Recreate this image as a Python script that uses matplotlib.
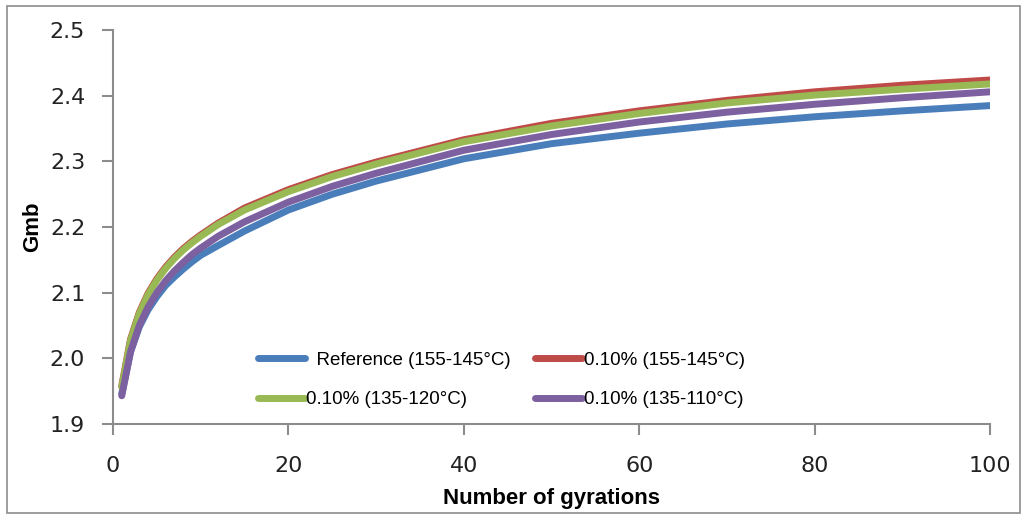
import matplotlib
matplotlib.use("Agg")
import matplotlib.pyplot as plt
from matplotlib.patches import Rectangle

# Gyratory compaction: bulk specific gravity vs number of gyrations
gyrations = [1, 2, 3, 4, 5, 6, 7, 8, 9, 10, 12, 15, 20, 25, 30, 40, 50, 60, 70, 80, 90, 100]

gmb_reference = [1.946, 2.010, 2.048, 2.074, 2.094, 2.111, 2.124, 2.136, 2.147, 2.157, 2.172,
                 2.194, 2.226, 2.250, 2.270, 2.304, 2.327, 2.343, 2.357, 2.368, 2.377, 2.385]
gmb_155_145 = [1.958, 2.029, 2.070, 2.099, 2.121, 2.139, 2.154, 2.167, 2.178, 2.188, 2.206,
               2.229, 2.257, 2.280, 2.299, 2.333, 2.358, 2.377, 2.393, 2.406, 2.416, 2.424]
gmb_135_120 = [1.956, 2.027, 2.068, 2.097, 2.119, 2.137, 2.152, 2.165, 2.176, 2.186, 2.204,
               2.226, 2.254, 2.277, 2.296, 2.330, 2.354, 2.373, 2.389, 2.401, 2.410, 2.418]
gmb_135_110 = [1.943, 2.010, 2.050, 2.078, 2.100, 2.118, 2.133, 2.146, 2.158, 2.168, 2.186,
               2.208, 2.238, 2.262, 2.282, 2.317, 2.341, 2.360, 2.375, 2.387, 2.397, 2.406]

labels = ["  Reference (155-145°C)", "0.10% (155-145°C)", "0.10% (135-120°C)", "0.10% (135-110°C)"]
colors = ["#4a7ebb", "#be4b48", "#98b954", "#7d60a0"]
series = [gmb_reference, gmb_155_145, gmb_135_120, gmb_135_110]

fig = plt.figure(figsize=(10.27, 5.19), dpi=100)
ax = fig.add_axes([0.110, 0.183, 0.854, 0.759])

lines = []
for vals, lab, col in zip(series, labels, colors):
    ln, = ax.plot(gyrations, vals, color=col, lw=5, label=lab,
                  solid_capstyle="round", solid_joinstyle="round")
    lines.append(ln)

ax.set_xlim(0, 100)
ax.set_ylim(1.9, 2.5)
ax.set_xticks(range(0, 101, 20))
ax.set_yticks([1.9, 2.0, 2.1, 2.2, 2.3, 2.4, 2.5])
ax.set_yticklabels(["1.9", "2.0", "2.1", "2.2", "2.3", "2.4", "2.5"])

for side in ["top", "right"]:
    ax.spines[side].set_visible(False)
for side in ["left", "bottom"]:
    ax.spines[side].set_color("#8c8c8c")
    ax.spines[side].set_linewidth(1.5)
ax.tick_params(direction="out", length=8, width=1.5, color="#8c8c8c",
               labelsize=16, labelcolor="#222222")
ax.tick_params(axis="y", pad=12)
ax.tick_params(axis="x", pad=15)

ax.set_xlabel("Number of gyrations", fontsize=16, fontweight="bold",
              family="Liberation Sans", labelpad=9)
ax.set_ylabel("Gmb", fontsize=16, fontweight="bold", family="Liberation Sans", labelpad=5)

# Excel-style row order: blue, red on the first row; green, purple on the second
order = [0, 2, 1, 3]
ax.legend([lines[i] for i in order], [labels[i] for i in order],
          loc="lower left", bbox_to_anchor=(0.165, 0.04), ncol=2, frameon=False,
          prop={"family": "Liberation Sans", "size": 13.5}, handlelength=2.5,
          handletextpad=0.1, columnspacing=1.3, borderpad=0, borderaxespad=0,
          labelspacing=1.2)

# outer chart frame
fig.patches.append(Rectangle((0.007, 0.012), 0.986, 0.976, transform=fig.transFigure,
                             fill=False, edgecolor="#8c8c8c", lw=1.2))

fig.savefig("out.png", dpi=100)
